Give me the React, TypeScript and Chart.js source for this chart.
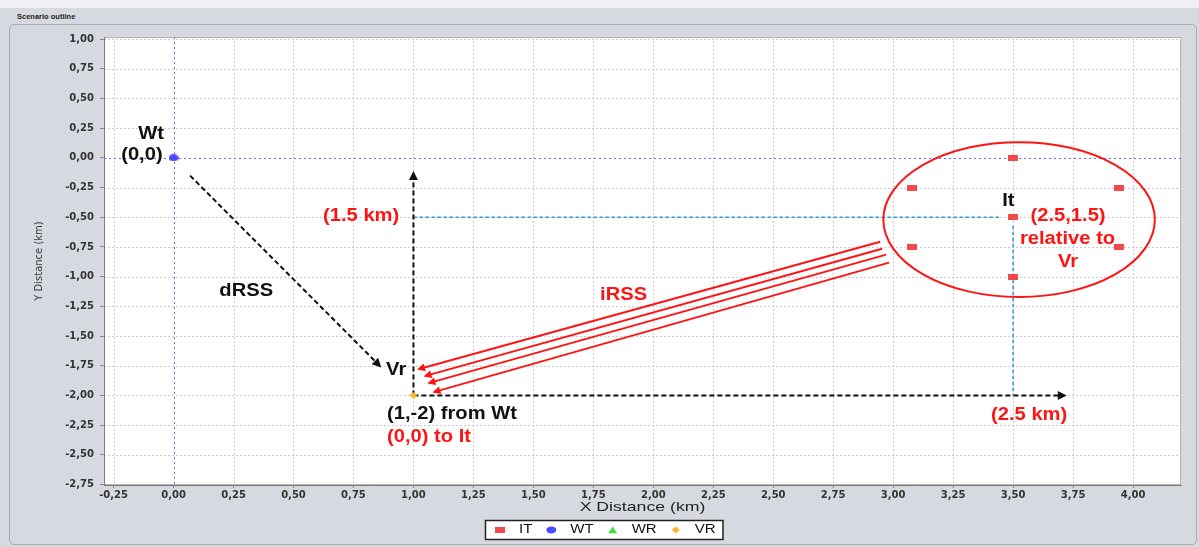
import React, { useEffect, useRef } from "react";
import { Chart, registerables } from "chart.js";

Chart.register(...registerables);

// ---------- data ----------
const headerTitle = "Scenario outline";
const xAxisTitle = "X Distance (km)";
const yAxisTitle = "Y Distance (km)";
const legendNames = ["IT", "WT", "WR", "VR"];

const xMin = -0.29;
const xMax = 4.2;
const yMin = -2.754;
const yMax = 1.017;
const tickStep = 0.25;

// IT = interfering transmitters (hexagon cluster)
const itX = [3.5, 3.08, 3.94, 3.5, 3.08, 3.94, 3.5];
const itY = [0, -0.25, -0.25, -0.5, -0.75, -0.75, -1.0];
// WT = wanted transmitter
const wtX = [0];
const wtY = [0];
// WR = wanted receiver (none visible)
const wrX: number[] = [];
const wrY: number[] = [];
// VR = victim receiver
const vrX = [1];
const vrY = [-2];

// ---------- annotations (data units) ----------
// black dashed arrows: start -> tip
const blackArrowX1 = [0.069, 1.0, 1.0];
const blackArrowY1 = [-0.15, -2.0, -2.0];
const blackArrowX2 = [0.866, 1.0, 3.724];
const blackArrowY2 = [-1.764, -0.11, -2.0];

// blue dashed guide lines
const guideX1 = [1.0, 3.5];
const guideY1 = [-0.5, -0.572];
const guideX2 = [3.446, 3.5];
const guideY2 = [-0.5, -2.0];

// red iRSS lines: start (near It) -> tip (near Vr)
const irssX1 = [2.946, 2.954, 2.971, 2.983];
const irssY1 = [-0.706, -0.765, -0.815, -0.882];
const irssX2 = [1.015, 1.042, 1.058, 1.079];
const irssY2 = [-1.782, -1.84, -1.899, -1.975];

// red ellipse around It cluster
const ellipseCx = 3.525;
const ellipseCy = -0.52;
const ellipseRx = 0.566;
const ellipseRy = 0.652;

// texts
const noteTexts = ["Wt", "(0,0)", "dRSS", "(1.5 km)", "Vr", "(1,-2) from Wt", "(0,0) to It", "iRSS", "It", "(2.5,1.5)", "relative to", "Vr", "(2.5 km)"];
const noteX = [-0.094, -0.132, 0.303, 0.782, 0.928, 0.89, 0.89, 1.876, 3.48, 3.729, 3.727, 3.729, 3.567];
const noteY = [0.2, 0.022, -1.119, -0.486, -1.79, -2.155, -2.352, -1.151, -0.36, -0.486, -0.68, -0.873, -2.161];
const noteRed = [false, false, false, true, false, false, true, true, false, true, true, true, true];
const noteLeft = [false, false, false, false, false, true, true, false, false, false, false, false, false];

const RED = "#ff1414";
const BLACK = "#111111";
const IT_COLOR = "#f04a4a";
const WT_COLOR = "#4a4aff";
const WR_COLOR = "#3fe03f";
const VR_COLOR = "#ffb52a";

const fmt = (v: number) => {
  const r = Math.abs(v) < 1e-9 ? 0 : v;
  return r.toFixed(2).replace(".", ",");
};

function makeCanvas(w: number, h: number, draw: (c: CanvasRenderingContext2D) => void) {
  const c = document.createElement("canvas");
  c.width = w;
  c.height = h;
  const g = c.getContext("2d")!;
  draw(g);
  return c;
}

function drawSymbol(ctx: CanvasRenderingContext2D, kind: number, cx: number, cy: number) {
  ctx.save();
  if (kind === 0) {
    ctx.fillStyle = IT_COLOR;
    ctx.fillRect(cx - 5, cy - 3, 10, 6);
  } else if (kind === 1) {
    ctx.fillStyle = WT_COLOR;
    ctx.beginPath();
    ctx.ellipse(cx, cy, 5, 3.4, 0, 0, Math.PI * 2);
    ctx.fill();
  } else if (kind === 2) {
    ctx.fillStyle = WR_COLOR;
    ctx.beginPath();
    ctx.moveTo(cx, cy - 3.5);
    ctx.lineTo(cx + 4.5, cy + 3.2);
    ctx.lineTo(cx - 4.5, cy + 3.2);
    ctx.closePath();
    ctx.fill();
  } else {
    ctx.fillStyle = VR_COLOR;
    ctx.beginPath();
    ctx.moveTo(cx, cy - 3.5);
    ctx.lineTo(cx + 4, cy);
    ctx.lineTo(cx, cy + 3.5);
    ctx.lineTo(cx - 4, cy);
    ctx.closePath();
    ctx.fill();
  }
  ctx.restore();
}

function stretchedText(
  ctx: CanvasRenderingContext2D,
  text: string,
  x: number,
  y: number,
  font: string,
  color: string,
  align: CanvasTextAlign,
  sx: number
) {
  ctx.save();
  ctx.translate(x, y);
  ctx.scale(sx, 1);
  ctx.font = font;
  ctx.fillStyle = color;
  ctx.textAlign = align;
  ctx.textBaseline = "middle";
  ctx.fillText(text, 0, 0);
  ctx.restore();
}

function arrowHead(ctx: CanvasRenderingContext2D, x1: number, y1: number, x2: number, y2: number, len: number, half: number, color: string) {
  const a = Math.atan2(y2 - y1, x2 - x1);
  ctx.save();
  ctx.setLineDash([]);
  ctx.fillStyle = color;
  ctx.beginPath();
  ctx.moveTo(x2, y2);
  ctx.lineTo(x2 - len * Math.cos(a) + half * Math.sin(a), y2 - len * Math.sin(a) - half * Math.cos(a));
  ctx.lineTo(x2 - len * Math.cos(a) - half * Math.sin(a), y2 - len * Math.sin(a) + half * Math.cos(a));
  ctx.closePath();
  ctx.fill();
  ctx.restore();
}

const scenarioPlugin = {
  id: "scenario",
  beforeDraw(chart: any) {
    const { ctx, chartArea } = chart;
    const { left, top, right, bottom } = chartArea;
    const xs = chart.scales.x;
    const ys = chart.scales.y;
    ctx.save();
    ctx.fillStyle = "#ffffff";
    ctx.fillRect(left, top, right - left, bottom - top);
    ctx.strokeStyle = "#b4b4b4";
    ctx.lineWidth = 1;
    ctx.strokeRect(left + 0.5, top + 0.5, right - left - 1, bottom - top - 1);
    // grid
    ctx.setLineDash([2, 2]);
    ctx.strokeStyle = "#cccccc";
    xs.ticks.forEach((t: any) => {
      if (Math.abs(t.value) < 1e-9) return;
      const px = Math.round(xs.getPixelForValue(t.value)) + 0.5;
      ctx.beginPath();
      ctx.moveTo(px, top);
      ctx.lineTo(px, bottom);
      ctx.stroke();
    });
    ys.ticks.forEach((t: any) => {
      if (Math.abs(t.value) < 1e-9) return;
      const py = Math.round(ys.getPixelForValue(t.value)) + 0.5;
      ctx.beginPath();
      ctx.moveTo(left, py);
      ctx.lineTo(right, py);
      ctx.stroke();
    });
    // blue zero lines
    ctx.strokeStyle = "#6a6aff";
    ctx.setLineDash([2, 3]);
    const zx = Math.round(xs.getPixelForValue(0)) + 0.5;
    const zy = Math.round(ys.getPixelForValue(0)) + 0.5;
    ctx.beginPath();
    ctx.moveTo(zx, top);
    ctx.lineTo(zx, bottom);
    ctx.stroke();
    ctx.beginPath();
    ctx.moveTo(left, zy);
    ctx.lineTo(right, zy);
    ctx.stroke();
    ctx.restore();
  },
  beforeDatasetsDraw(chart: any) {
    const { ctx } = chart;
    const xs = chart.scales.x;
    const ys = chart.scales.y;
    const px = (v: number) => xs.getPixelForValue(v);
    const py = (v: number) => ys.getPixelForValue(v);
    ctx.save();

    // blue guides
    ctx.strokeStyle = "#2f9bd6";
    ctx.lineWidth = 1.5;
    ctx.setLineDash([3.5, 2.5]);
    guideX1.forEach((_, i) => {
      ctx.beginPath();
      ctx.moveTo(px(guideX1[i]), py(guideY1[i]));
      ctx.lineTo(px(guideX2[i]), py(guideY2[i]));
      ctx.stroke();
    });

    // black dashed arrows
    ctx.strokeStyle = BLACK;
    ctx.lineWidth = 2;
    blackArrowX1.forEach((_, i) => {
      const x1 = px(blackArrowX1[i]);
      const y1 = py(blackArrowY1[i]);
      const x2 = px(blackArrowX2[i]);
      const y2 = py(blackArrowY2[i]);
      const a = Math.atan2(y2 - y1, x2 - x1);
      ctx.setLineDash([5, 3]);
      ctx.beginPath();
      ctx.moveTo(x1, y1);
      ctx.lineTo(x2 - 6 * Math.cos(a), y2 - 6 * Math.sin(a));
      ctx.stroke();
      arrowHead(ctx, x1, y1, x2, y2, 9, 4.5, BLACK);
    });

    // red iRSS lines
    ctx.strokeStyle = RED;
    ctx.lineWidth = 2;
    ctx.setLineDash([]);
    irssX1.forEach((_, i) => {
      const x1 = px(irssX1[i]);
      const y1 = py(irssY1[i]);
      const x2 = px(irssX2[i]);
      const y2 = py(irssY2[i]);
      const a = Math.atan2(y2 - y1, x2 - x1);
      ctx.beginPath();
      ctx.moveTo(x1, y1);
      ctx.lineTo(x2 - 4 * Math.cos(a), y2 - 4 * Math.sin(a));
      ctx.stroke();
      arrowHead(ctx, x1, y1, x2, y2, 8, 4, RED);
    });

    // ellipse
    const ecx = px(ellipseCx);
    const ecy = py(ellipseCy);
    const erx = Math.abs(px(ellipseCx + ellipseRx) - ecx);
    const ery = Math.abs(py(ellipseCy + ellipseRy) - ecy);
    ctx.strokeStyle = RED;
    ctx.lineWidth = 2;
    ctx.beginPath();
    ctx.ellipse(ecx, ecy, erx, ery, 0, 0, Math.PI * 2);
    ctx.stroke();

    // texts
    noteTexts.forEach((t, i) => {
      stretchedText(
        ctx,
        t,
        px(noteX[i]),
        py(noteY[i]),
        'bold 18px "Liberation Sans", Arial, sans-serif',
        noteRed[i] ? RED : BLACK,
        noteLeft[i] ? "left" : "center",
        1.12
      );
    });
    ctx.restore();
  },
  afterDraw(chart: any) {
    const { ctx, chartArea } = chart;
    ctx.save();
    // axis titles
    const cx = (chartArea.left + chartArea.right) / 2;
    stretchedText(ctx, xAxisTitle, cx, 507, '13px "Liberation Sans", Arial, sans-serif', "#222222", "center", 1.36);
    ctx.save();
    ctx.translate(39, (chartArea.top + chartArea.bottom) / 2);
    ctx.rotate(-Math.PI / 2);
    ctx.font = '10px "DejaVu Sans", sans-serif';
    ctx.fillStyle = "#3a3a3a";
    ctx.textAlign = "center";
    ctx.textBaseline = "middle";
    ctx.fillText(yAxisTitle, 0, 0);
    ctx.restore();

    // legend
    const lsx = 1.2;
    const lfont = '12.5px "Liberation Sans", Arial, sans-serif';
    ctx.font = lfont;
    const widths = legendNames.map((n) => ctx.measureText(n).width * lsx);
    const gap = 19;
    const total = 15 + legendNames.length * gap + (legendNames.length - 1) * gap + 7 + widths.reduce((a, b) => a + b, 0);
    const legendCenter = 604;
    const bx = Math.round(legendCenter - total / 2);
    const by = 520;
    const bh = 19;
    ctx.fillStyle = "#ffffff";
    ctx.fillRect(bx, by, total, bh);
    ctx.strokeStyle = "#222222";
    ctx.lineWidth = 1.5;
    ctx.strokeRect(bx + 0.5, by + 0.5, total, bh);
    let x = bx + 15;
    const cy = by + bh / 2 + 0.5;
    legendNames.forEach((n, i) => {
      drawSymbol(ctx, i, x, cy);
      stretchedText(ctx, n, x + gap, cy, lfont, "#111111", "left", lsx);
      x += gap + widths[i] + gap;
    });
    ctx.restore();
  },
};

export default function App() {
  const ref = useRef<HTMLCanvasElement | null>(null);

  useEffect(() => {
    if (!ref.current) return;
    const itImg = makeCanvas(10, 6, (g) => {
      g.fillStyle = IT_COLOR;
      g.fillRect(0, 0, 10, 6);
    });
    const wtImg = makeCanvas(10, 7, (g) => {
      g.fillStyle = WT_COLOR;
      g.beginPath();
      g.ellipse(5, 3.5, 5, 3.5, 0, 0, Math.PI * 2);
      g.fill();
    });
    const wrImg = makeCanvas(9, 7, (g) => {
      g.fillStyle = WR_COLOR;
      g.beginPath();
      g.moveTo(4.5, 0);
      g.lineTo(9, 7);
      g.lineTo(0, 7);
      g.closePath();
      g.fill();
    });
    const vrImg = makeCanvas(8, 7, (g) => {
      g.fillStyle = VR_COLOR;
      g.beginPath();
      g.moveTo(4, 0);
      g.lineTo(8, 3.5);
      g.lineTo(4, 7);
      g.lineTo(0, 3.5);
      g.closePath();
      g.fill();
    });

    const toPts = (xs: number[], ys: number[]) => xs.map((x, i) => ({ x, y: ys[i] }));
    const tickFont = { family: '"DejaVu Sans", sans-serif', size: 10, weight: "bold" as const };

    const chart = new Chart(ref.current, {
      type: "scatter",
      data: {
        datasets: [
          { label: legendNames[0], data: toPts(itX, itY), pointStyle: itImg as any, pointRadius: 4, backgroundColor: IT_COLOR, borderColor: IT_COLOR },
          { label: legendNames[1], data: toPts(wtX, wtY), pointStyle: wtImg as any, pointRadius: 4, backgroundColor: WT_COLOR, borderColor: WT_COLOR },
          { label: legendNames[2], data: toPts(wrX, wrY), pointStyle: wrImg as any, pointRadius: 4, backgroundColor: WR_COLOR, borderColor: WR_COLOR },
          { label: legendNames[3], data: toPts(vrX, vrY), pointStyle: vrImg as any, pointRadius: 4, backgroundColor: VR_COLOR, borderColor: VR_COLOR },
        ],
      },
      options: {
        animation: false,
        responsive: false,
        devicePixelRatio: 1,
        events: [],
        layout: { padding: { left: 0, top: 37, right: 18, bottom: 0 } },
        plugins: {
          legend: { display: false },
          tooltip: { enabled: false },
          title: { display: false },
        },
        scales: {
          x: {
            type: "linear",
            min: xMin,
            max: xMax,
            afterFit: (s: any) => {
              s.height = 62;
            },
            ticks: {
              stepSize: tickStep,
              includeBounds: false,
              autoSkip: false,
              maxRotation: 0,
              padding: 1,
              color: "#333333",
              font: tickFont,
              callback: (v: any) => fmt(Number(v)),
            },
            grid: { drawOnChartArea: false, drawTicks: true, tickLength: 3, color: "#888888", tickColor: "#888888" },
            border: { display: true, color: "#7a7a7a", width: 1 },
          },
          y: {
            type: "linear",
            min: yMin,
            max: yMax,
            afterFit: (s: any) => {
              s.width = 104;
            },
            ticks: {
              stepSize: tickStep,
              includeBounds: false,
              autoSkip: false,
              padding: 6,
              color: "#333333",
              font: tickFont,
              callback: (v: any) => fmt(Number(v)),
            },
            grid: { drawOnChartArea: false, drawTicks: true, tickLength: 4, color: "#888888", tickColor: "#888888" },
            border: { display: true, color: "#7a7a7a", width: 1 },
          },
        },
      },
      plugins: [scenarioPlugin],
    });
    return () => chart.destroy();
  }, []);

  return (
    <div
      style={{
        position: "fixed",
        left: 0,
        top: 0,
        width: 1199,
        height: 547,
        overflow: "hidden",
        background: "#d6d9df",
      }}
    >
      <div style={{ position: "absolute", left: 0, top: 0, width: 1199, height: 8, background: "#eef0f3" }} />
      <div
        style={{
          position: "absolute",
          left: 17,
          top: 11,
          fontFamily: '"Liberation Sans", Arial, sans-serif',
          fontWeight: "bold",
          fontSize: 7.5,
          lineHeight: "11px",
          color: "#222",
          whiteSpace: "nowrap",
        }}
      >
        {headerTitle}
      </div>
      <div
        style={{
          position: "absolute",
          left: 9,
          top: 24,
          width: 1186,
          height: 519,
          border: "1px solid #a6aab1",
          borderRadius: 5,
        }}
      />
      <canvas
        ref={ref}
        width={1199}
        height={547}
        style={{ position: "absolute", left: 0, top: 0, width: 1199, height: 547 }}
      />
    </div>
  );
}
